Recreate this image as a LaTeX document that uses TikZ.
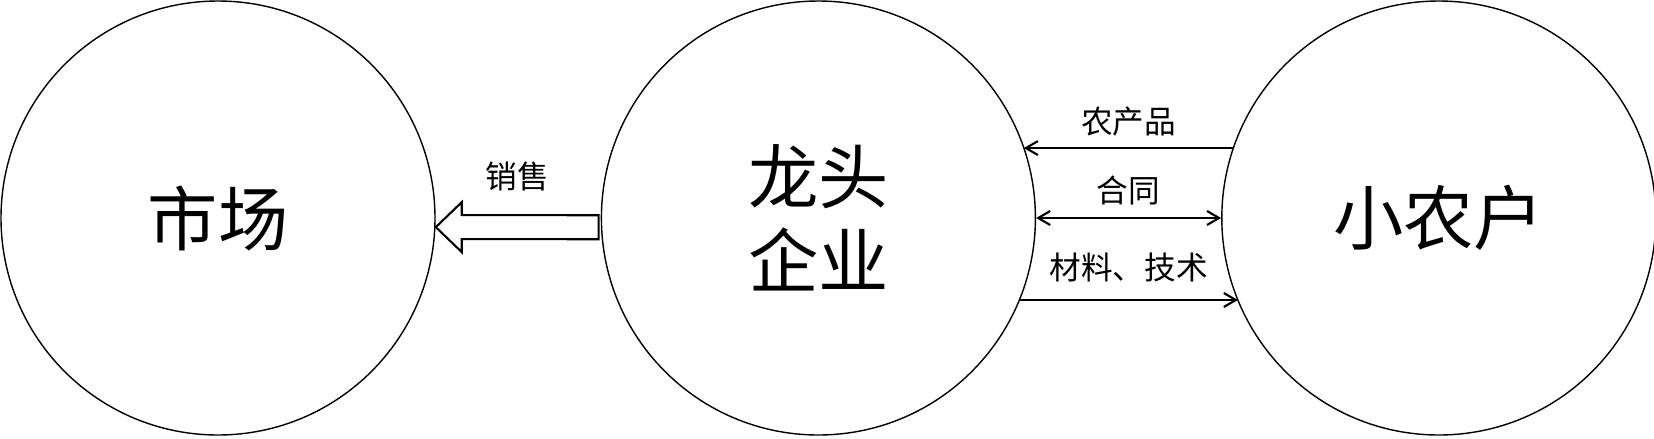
\documentclass[tikz,border=0pt]{standalone}
\usepackage{fontspec}
\setmainfont{Noto Sans CJK SC}
\usepackage{tikz}
\usetikzlibrary{
  arrows.meta,
  positioning
}
\tikzset{
  chainNode/.style={
    circle,
    draw=black,
    thin,
    minimum size=4.34cm,
    inner sep=0pt,
    align=center,
    font=\fontsize{20}{24}\selectfont
  },
  chainArrow/.style={
    -{Straight Barb[length=1.2mm,width=1.4mm]},
    semithick
  },
  chainBoth/.style={
    {Straight Barb[length=1.2mm,width=1.4mm]}-{Straight Barb[length=1.2mm,width=1.4mm]},
    semithick
  },
  chainLabel/.style={
    inner sep=0pt,
    font=\fontsize{9}{11}\selectfont
  },
  saleArrow/.style={
    draw=black,
    semithick,
    line join=miter
  }
}

\begin{document}
\begin{tikzpicture}
  \useasboundingbox (0,0) rectangle (16.54,4.38);

  \node[chainNode] (market) at (2.18,2.20) {市场};

  \node[chainNode, right=1.65cm of market]
    (firm) {龙头\\企业};

  \node[chainNode, right=1.85cm of firm]
    (farmer) {小农户};

  % points on the circle borders
  \coordinate (saleTip) at ([shift={(-2.4:2.18cm)}]market.center);
  \coordinate (saleEnd) at ([shift={(182.4:2.20cm)}]firm.center);
  \coordinate (produceIn) at ([shift={(18.8:2.17cm)}]firm.center);
  \coordinate (produceOut) at ([shift={(161.2:2.17cm)}]farmer.center);
  \coordinate (supplyOut) at ([shift={(-22.2:2.17cm)}]firm.center);
  \coordinate (supplyIn) at ([shift={(202.2:2.17cm)}]farmer.center);

  % hollow sales arrow
  \draw[saleArrow] (saleTip) -- ++(0.26,0.25) -- ++(0,-0.13)
    -- ([yshift=1.2mm]saleEnd) -- ([yshift=-1.2mm]saleEnd)
    -- ([xshift=2.6mm,yshift=-1.2mm]saleTip) -- ++(0,-0.13) -- cycle;
  \path (saleTip) -- (saleEnd)
    node[chainLabel, midway, yshift=5.1mm] (sale) {销售};

  \draw[chainArrow] (produceOut) -- (produceIn)
    node[chainLabel, midway, yshift=2.7mm] (produce) {农产品};
  \draw[chainBoth] (firm.east) -- (farmer.west)
    node[chainLabel, midway, yshift=2.8mm] (contract) {合同};
  \draw[chainArrow] (supplyOut) -- (supplyIn)
    node[chainLabel, midway, yshift=3.2mm] (supply) {材料、技术};
\end{tikzpicture}
\end{document}
